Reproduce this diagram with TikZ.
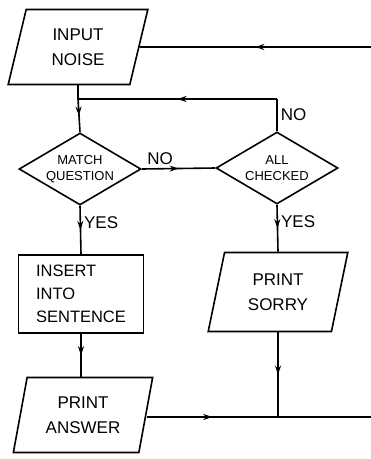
\documentclass[tikz,border=0pt]{standalone}
\usepackage{fontspec}
\setmainfont{Liberation Sans}
\usetikzlibrary{shapes.geometric, arrows.meta, decorations.markings}

\begin{document}
\begin{tikzpicture}[x=1pt, y=-1pt, line width=1.6pt,
    io/.style={trapezium, draw, trapezium left angle=76,
      trapezium right angle=104, trapezium stretches=true,
      minimum width=140pt, minimum height=75pt, inner sep=0pt,
      align=center, font=\fontsize{17}{25}\selectfont},
    test/.style={diamond, draw, aspect=1.7, minimum width=122pt,
      minimum height=72pt, inner sep=0pt, align=center,
      font=\fontsize{13}{16}\selectfont},
    proc/.style={rectangle, draw, minimum width=125pt,
      minimum height=78pt, align=left,
      font=\fontsize{16.5}{23}\selectfont},
    lbl/.style={font=\fontsize{17}{17}\selectfont, inner sep=3pt},
    midarrow/.style={postaction={decorate}, decoration={markings,
        mark=at position 0.5 with {\arrow{Stealth[length=9pt, width=6pt]}}}}]
    \useasboundingbox (0,0) rectangle (371,459);

    \begin{scope}
      \node [io] (input) at (78,47) {INPUT\\NOISE}; \node [test]
      (match) at (80,169) {MATCH\\QUESTION}; \node [test] (checked)
      at (277,168) {ALL\\CHECKED}; \node [proc] (insert) at (81,294)
      {INSERT\\INTO\\SENTENCE}; \node [io] (answer) at (83,415)
      {PRINT\\ANSWER}; \node [io, minimum height=79pt] (sorry) at
      (278,292) {PRINT\\SORRY};
    \end{scope}

    % free ends and joints
    \coordinate (inright) at (371,47); \coordinate (loop) at
    (input.south |- 0,99); \coordinate (back) at (checked.north |-
    0,99); \coordinate (join) at (sorry.south |- 0,417);
    \coordinate (outright) at (371,417);

    \begin{scope}
      \draw [midarrow] (inright) to (input.east); \draw (input.south)
      to (loop); \draw [midarrow] (loop) to (match.north); \draw
      (checked.north) to node [lbl, right] {NO} (back); \draw
      [midarrow] (back) to (loop); \draw [midarrow] (match.east) to
      node [lbl, above, pos=0.25] {NO} (checked.west); \draw
      [midarrow] (match.south) to node [lbl, right, pos=0.35] {YES}
      (insert.north); \draw [midarrow] (checked.south) to node [lbl,
      right, pos=0.35] {YES} (sorry.north); \draw [midarrow]
      (insert.south) to (insert.south |- answer.north); \draw
      [midarrow] (answer.east |- join) to (join); \draw [midarrow]
      (sorry.south) to (join); \draw (join) to (outright);
    \end{scope}
  \end{tikzpicture}
\end{document}
